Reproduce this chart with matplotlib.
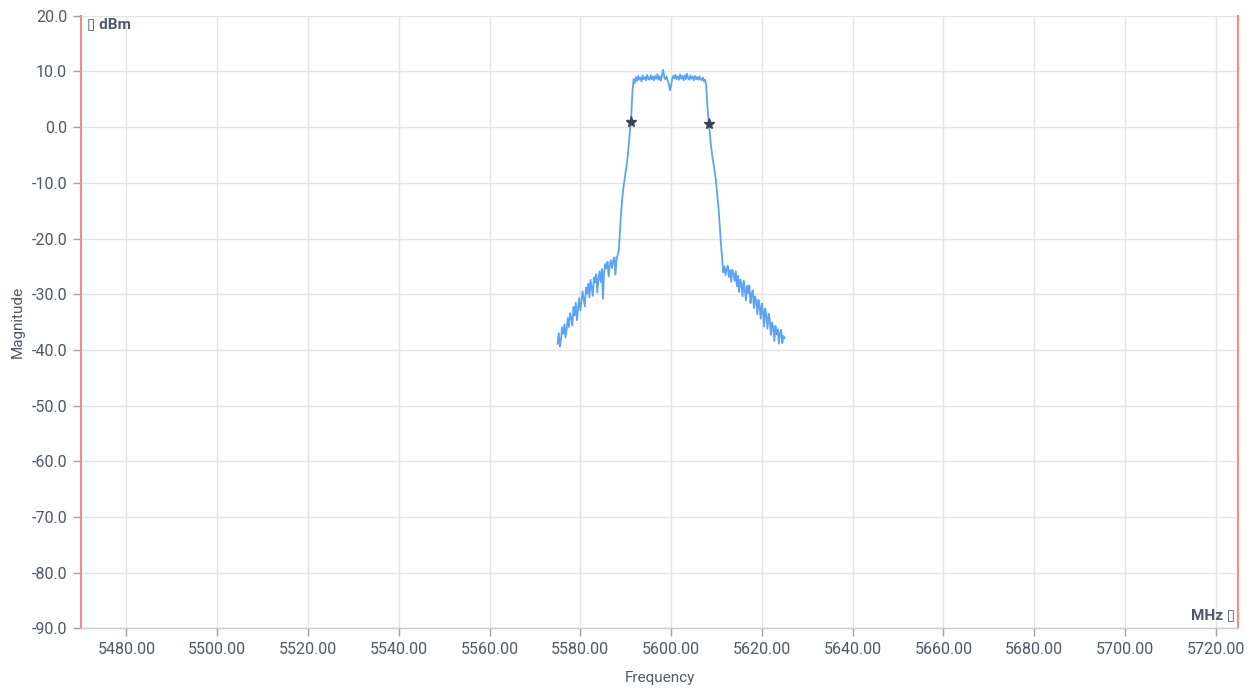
import numpy as np
import matplotlib
matplotlib.use("Agg")
import matplotlib.pyplot as plt

# ---- data ----
freq_start = 5575.0
freq_stop = 5625.0

magnitude_dbm = [
    # left skirt 5575.00 - 5588.25
    -38.9, -37.0, -39.4, -38.1, -36.0, -37.1, -35.4, -37.8, -36.2, -34.3,
    -35.9, -33.4, -34.1, -35.6, -32.3, -33.8, -31.5, -34.7, -32.6, -30.7,
    -32.9, -31.4, -29.5, -30.8, -32.2, -28.8, -29.9, -28.1, -30.6, -27.4,
    -28.9, -30.3, -27.0, -27.9, -26.4, -29.7, -27.3, -25.9, -27.8, -25.5,
    -30.8, -26.1, -24.6, -25.4, -24.2, -26.8, -24.9, -23.9, -25.3, -24.0,
    -23.4, -26.5, -23.5, -23.0,
    # rising edge 5588.50 - 5591.75
    -22.0, -18.5, -15.2, -12.8, -10.9, -9.4, -8.0, -6.6, -4.8, -2.6,
    -0.2, 2.4, 6.5, 8.6,
    # in-band 5592.00 - 5607.50
    7.9, 9.0, 8.3, 9.2, 8.5, 8.9, 8.2, 9.3, 8.6, 9.0,
    8.4, 9.4, 8.7, 8.5, 9.3, 8.6, 9.1, 8.4, 9.2, 8.7,
    9.5, 8.5, 9.1, 8.3, 9.3, 10.3, 9.0, 8.6, 9.1, 8.4,
    7.8, 6.6, 7.4, 8.7, 9.2, 8.7, 9.4, 8.6, 9.1, 8.5,
    9.5, 8.7, 9.2, 8.4, 9.3, 8.6, 9.6, 8.8, 8.5, 9.3,
    8.7, 9.1, 8.4, 9.2, 8.6, 9.0, 8.5, 9.1, 8.6, 8.4,
    8.9, 8.2, 8.5,
    # falling edge 5607.75 - 5611.25
    7.6, 3.8, 1.2, -0.8, -3.0, -4.7, -6.0, -7.3, -8.7, -10.6,
    -12.8, -15.0, -18.0, -21.0, -23.6,
    # right skirt 5611.50 - 5625.00
    -26.1, -25.0, -26.6, -25.4, -24.9, -26.9, -25.7, -27.8, -25.6, -26.3,
    -27.6, -25.9, -28.6, -26.7, -29.6, -27.4, -28.1, -30.4, -27.6, -29.2,
    -31.1, -28.5, -29.8, -28.4, -31.6, -30.0, -29.3, -32.5, -30.4, -31.3,
    -33.6, -31.0, -32.2, -34.4, -31.7, -33.1, -35.8, -32.6, -34.0, -36.2,
    -33.5, -34.6, -37.3, -35.1, -36.0, -38.4, -35.7, -37.2, -36.3, -38.9,
    -37.0, -36.4, -38.8, -37.5, -37.9,
]

marker_freqs = [5591.1, 5608.3]
marker_dbm = [1.0, 0.5]

x_ticks = [5480, 5500, 5520, 5540, 5560, 5580, 5600, 5620, 5640, 5660, 5680, 5700, 5720]
y_ticks = [20, 10, 0, -10, -20, -30, -40, -50, -60, -70, -80, -90]

freqs = np.linspace(freq_start, freq_stop, len(magnitude_dbm))

# ---- figure ----
plt.rcParams['font.family'] = ['Roboto', 'DejaVu Sans']
fig = plt.figure(figsize=(12.56, 6.91), dpi=100)
ax = fig.add_axes([0.0645, 0.0907, 0.9215, 0.8865])

ax.plot(freqs, magnitude_dbm, color='#5ba3f5', lw=1.3, zorder=3)
ax.plot(marker_freqs, marker_dbm, linestyle='none', marker='*',
        markersize=8, color='#3a4350', zorder=4)

ax.set_xlim(5470, 5725)
ax.set_ylim(-90, 20)
ax.set_xticks(x_ticks)
ax.set_xticklabels([f"{v:.2f}" for v in x_ticks])
ax.set_yticks(y_ticks)
ax.set_yticklabels([f"{v:.1f}" for v in y_ticks])

ax.grid(True, color='#e3e4ea', lw=1.0, zorder=0)
ax.set_axisbelow(True)

tick_color = '#9aa0aa'
label_color = '#4f5866'
ax.tick_params(axis='both', colors=tick_color, length=6, width=1,
               labelcolor=label_color, labelsize=11.5)
ax.tick_params(axis='y', pad=4)
ax.tick_params(axis='x', pad=4)

for side in ['left', 'right']:
    ax.spines[side].set_color('#f28b8b')
    ax.spines[side].set_linewidth(1.5)
ax.spines['bottom'].set_color('#c9ccd4')
ax.spines['bottom'].set_linewidth(1.0)
ax.spines['top'].set_visible(False)

ax.set_xlabel('Frequency', fontsize=11, color=label_color, labelpad=10)
ax.set_ylabel('Magnitude', fontsize=11, color=label_color, labelpad=5)

ax.text(0.005, 0.997, '\u25af dBm', transform=ax.transAxes, ha='left', va='top',
        fontsize=11, fontweight='bold', color=label_color,
        family=['Roboto', 'DejaVu Sans'])
ax.text(0.997, 0.010, 'MHz \u25af', transform=ax.transAxes, ha='right', va='bottom',
        fontsize=11, fontweight='bold', color=label_color,
        family=['Roboto', 'DejaVu Sans'])

fig.savefig('out.png', dpi=100, facecolor='white')
